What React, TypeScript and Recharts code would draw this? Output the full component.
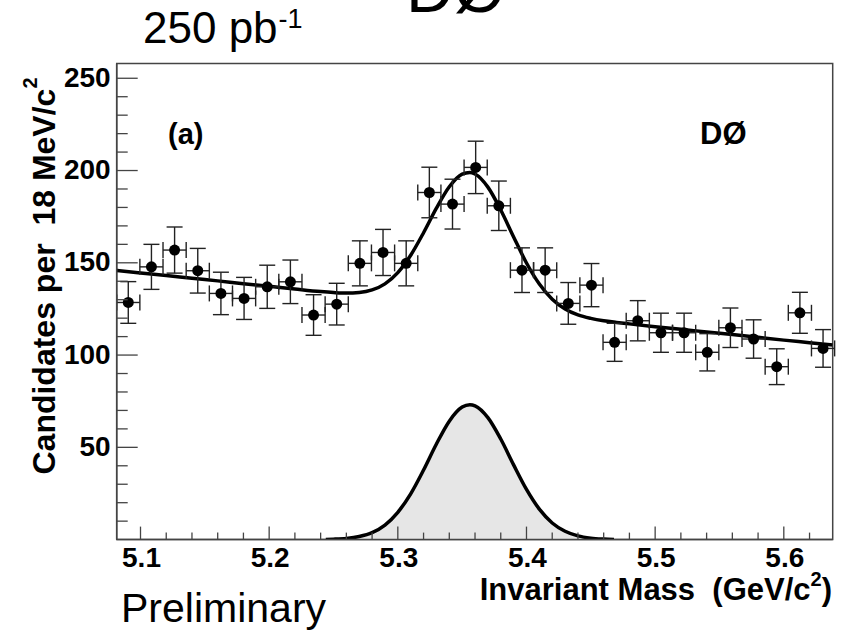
import { ComposedChart, Area, Line, Scatter, ErrorBar, XAxis, YAxis, ReferenceArea } from "recharts";

// histogram: 18 MeV bins
const BIN_CENTERS = [
  5.0905, 5.1085, 5.1265, 5.1445, 5.1625, 5.1805, 5.1985, 5.2165, 5.2345, 5.2525, 5.2705,
  5.2885, 5.3065, 5.3245, 5.3425, 5.3605, 5.3785, 5.3965, 5.4145, 5.4325, 5.4505, 5.4685,
  5.4865, 5.5045, 5.5225, 5.5405, 5.5585, 5.5765, 5.5945, 5.6125, 5.6305,
];
const COUNTS = [
  128.5, 147.8, 156.9, 145.7, 133.4, 130.7, 137.0, 139.7, 121.7, 127.6, 149.7,
  155.6, 149.7, 188.1, 181.8, 201.7, 180.9, 146.0, 146.0, 128.0, 137.9, 106.9,
  118.6, 112.1, 112.1, 101.5, 114.8, 108.7, 93.7, 122.9, 103.6,
];
const ERRORS = [
  11.3, 12.2, 12.5, 12.1, 11.5, 11.4, 11.7, 11.8, 11.0, 11.3, 12.2,
  12.5, 12.2, 13.7, 13.5, 14.2, 13.4, 12.1, 12.1, 11.3, 11.7, 10.3,
  10.9, 10.6, 10.6, 10.1, 10.7, 10.4, 9.7, 11.1, 10.2,
];
const HALF_BIN = 0.009;

// total fit (background + signal)
const FIT_MASS = [
  5.0815, 5.1, 5.12, 5.14, 5.16, 5.18, 5.2, 5.22, 5.24, 5.25, 5.26, 5.27, 5.28, 5.29, 5.3,
  5.31, 5.32, 5.33, 5.34, 5.35, 5.356, 5.36, 5.37, 5.38, 5.39, 5.4, 5.41, 5.42, 5.43, 5.44,
  5.45, 5.46, 5.47, 5.48, 5.5, 5.52, 5.54, 5.56, 5.58, 5.6, 5.62, 5.638,
];
const FIT_VALUES = [
  145.9, 144.5, 143.1, 141.6, 140.2, 138.7, 137.3, 135.8, 134.4, 133.9, 133.6, 133.9, 135.3, 138.6, 144.7,
  154.1, 166.3, 179.6, 191.2, 198.1, 199.0, 198.1, 191.0, 178.6, 164.0, 149.9, 138.5, 130.3, 125.0, 121.8,
  119.9, 118.6, 117.7, 116.9, 115.4, 114.0, 112.5, 111.1, 109.6, 108.1, 106.7, 105.4,
];

// signal shape (shaded)
const SIGNAL_MASS = [
  5.244, 5.25, 5.26, 5.27, 5.28, 5.29, 5.3, 5.31, 5.32, 5.33, 5.34, 5.35, 5.356,
  5.36, 5.37, 5.38, 5.39, 5.4, 5.41, 5.42, 5.43, 5.44, 5.45, 5.46, 5.468,
];
const SIGNAL_VALUES = [
  0.1, 0.24, 0.66, 1.7, 3.8, 7.9, 14.8, 24.8, 37.7, 51.8, 64.2, 71.8, 73.1,
  72.5, 66.1, 54.5, 40.5, 27.2, 16.5, 9.0, 4.5, 2.0, 0.8, 0.3, 0.1,
];

const X_TICKS = [
  5.1, 5.12, 5.14, 5.16, 5.18, 5.2, 5.22, 5.24, 5.26, 5.28, 5.3, 5.32, 5.34, 5.36,
  5.38, 5.4, 5.42, 5.44, 5.46, 5.48, 5.5, 5.52, 5.54, 5.56, 5.58, 5.6, 5.62,
];
const Y_TICKS = [10, 20, 30, 40, 50, 60, 70, 80, 90, 100, 110, 120, 130, 140, 150, 160, 170, 180, 190, 200, 210, 220, 230, 240, 250];

const X_MIN = 5.0815;
const X_MAX = 5.638;
const Y_MAX = 258;

const FONT = "'Liberation Sans', Arial, Helvetica, sans-serif";
const AXIS = "#444";

const points = BIN_CENTERS.map((m, i) => ({ m, n: COUNTS[i], err: ERRORS[i], xerr: HALF_BIN }));
const fit = FIT_MASS.map((m, i) => ({ m, v: FIT_VALUES[i] }));
const signal = SIGNAL_MASS.map((m, i) => ({ m, s: SIGNAL_VALUES[i] }));

function XTick(props: any) {
  const { x, y, payload } = props;
  const v = payload.value;
  const major = Math.abs(v * 10 - Math.round(v * 10)) < 1e-6;
  return (
    <g>
      <line x1={x} x2={x} y1={y} y2={y - (major ? 13 : 7)} stroke={AXIS} strokeWidth={1.3} />
      {major && (
        <text x={x + 1} y={y + 27} textAnchor="middle" fontFamily={FONT} fontWeight="bold" fontSize={28} fill="#000">
          {v.toFixed(1)}
        </text>
      )}
    </g>
  );
}

function YTick(props: any) {
  const { x, y, payload } = props;
  const v = payload.value;
  const major = v % 50 === 0;
  return (
    <g>
      <line x1={x} x2={x + (major ? 21 : 11)} y1={y} y2={y} stroke={AXIS} strokeWidth={1.3} />
      {major && (
        <text x={x - 6} y={y - 1} textAnchor="end" dominantBaseline="central" fontFamily={FONT} fontWeight="bold" fontSize={28} fill="#000">
          {v}
        </text>
      )}
    </g>
  );
}

function Dot(props: any) {
  return <circle cx={props.cx} cy={props.cy} r={5.5} fill="#000" />;
}

const pre = { whiteSpace: "pre" as const };

export default function App() {
  return (
    <div style={{ position: "absolute", left: 0, top: 0, width: 845, height: 634, background: "#fff" }}>
      <ComposedChart width={845} height={634} margin={{ top: 63.5, right: 12.3, bottom: 54.4, left: 36.7 }}>
        <XAxis
          type="number"
          dataKey="m"
          domain={[X_MIN, X_MAX]}
          ticks={X_TICKS}
          interval={0}
          tickSize={0}
          tickMargin={0}
          tickLine={false}
          tick={<XTick />}
          height={40}
          axisLine={{ stroke: AXIS, strokeWidth: 1.5 }}
          allowDataOverflow
        />
        <YAxis
          type="number"
          domain={[0, Y_MAX]}
          ticks={Y_TICKS}
          interval={0}
          tickSize={0}
          tickMargin={0}
          tickLine={false}
          tick={<YTick />}
          width={80}
          axisLine={{ stroke: AXIS, strokeWidth: 1.5 }}
          allowDataOverflow
        />
        <ReferenceArea x1={X_MIN} x2={X_MAX} y1={0} y2={Y_MAX} fill="none" stroke={AXIS} strokeWidth={1.5} />
        <Area
          data={signal}
          dataKey="s"
          type="monotone"
          fill="#e6e6e6"
          fillOpacity={1}
          stroke="#000"
          strokeWidth={3.5}
          isAnimationActive={false}
        />
        <Line
          data={fit}
          dataKey="v"
          type="monotone"
          stroke="#000"
          strokeWidth={3.5}
          dot={false}
          isAnimationActive={false}
        />
        <Scatter data={points} dataKey="n" shape={<Dot />} isAnimationActive={false}>
          <ErrorBar dataKey="err" direction="y" width={8} stroke="#222" strokeWidth={1.4} />
          <ErrorBar dataKey="xerr" direction="x" width={8} stroke="#222" strokeWidth={1.4} />
        </Scatter>
      </ComposedChart>
      <svg width={845} height={634} style={{ position: "absolute", left: 0, top: 0, pointerEvents: "none" }}>
        <text x={406} y={12} fontFamily={FONT} fontSize={66} fill="#000">DØ</text>
        <text x={143} y={43} fontFamily={FONT} fontSize={44} fill="#000">
          250 pb
          <tspan dx={1} dy={-15} fontSize={27}>-1</tspan>
        </text>
        <text x={168} y={144} fontFamily={FONT} fontWeight="bold" fontSize={29} fill="#000">(a)</text>
        <text x={700} y={144} fontFamily={FONT} fontWeight="bold" fontSize={31} fill="#000">DØ</text>
        <text
          x={44}
          y={276}
          transform="rotate(-90 44 276)"
          textAnchor="middle"
          dominantBaseline="central"
          fontFamily={FONT}
          fontWeight="bold"
          fontSize={32}
          fill="#000"
          xmlSpace="preserve"
          style={pre}
        >
          {"Candidates per  18 MeV/c"}
          <tspan dy={-14} fontSize={20}>2</tspan>
        </text>
        <text
          x={832}
          y={600}
          textAnchor="end"
          fontFamily={FONT}
          fontWeight="bold"
          fontSize={31}
          fill="#000"
          xmlSpace="preserve"
          style={pre}
        >
          {"Invariant Mass  (GeV/c"}
          <tspan dy={-14} fontSize={20}>2</tspan>
          <tspan dy={14}>)</tspan>
        </text>
        <text x={121} y={622} fontFamily={FONT} fontSize={41} fill="#000">Preliminary</text>
      </svg>
    </div>
  );
}
